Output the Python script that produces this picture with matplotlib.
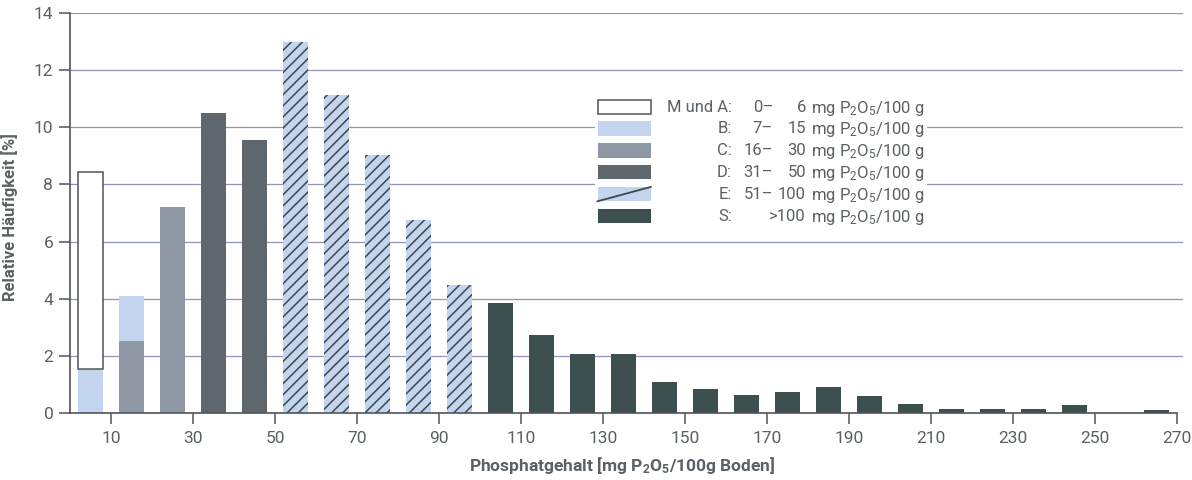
import matplotlib
matplotlib.use('Agg')
import matplotlib.pyplot as plt
from matplotlib.patches import Patch, Rectangle
from matplotlib.lines import Line2D
from matplotlib.legend_handler import HandlerPatch

plt.rcParams['font.family'] = ['Roboto', 'DejaVu Sans']
plt.rcParams['mathtext.default'] = 'regular'
plt.rcParams['hatch.linewidth'] = 1.1

# bar centres (mg P2O5/100g) and relative frequencies (%) per phosphate class
x_b = [5, 15]
b_vals = [1.55, 1.55]
x_c = [15, 25]
c_vals = [2.53, 7.21]
x_ma = [5]
ma_vals = [6.9]
x_d = [35, 45]
d_vals = [10.5, 9.56]
x_e = [55, 65, 75, 85, 95]
e_vals = [12.97, 11.14, 9.03, 6.74, 4.49]
x_s = [105, 115, 125, 135, 145, 155, 165, 175, 185, 195, 205, 215, 225, 235, 245, 265]
s_vals = [3.85, 2.72, 2.05, 2.05, 1.1, 0.83, 0.63, 0.73, 0.9, 0.61, 0.3, 0.15, 0.15, 0.15, 0.28, 0.12]

classes = ['M und A:', 'B:', 'C:', 'D:', 'E:', 'S:']
range_lo = ['0–', '7–', '16–', '31–', '51–', '']
range_hi = ['6', '15', '30', '50', '100', '>100']
unit = 'mg P$_2$O$_5$/100 g'

xticks = list(range(10, 271, 20))
yticks = list(range(0, 15, 2))

col_b = '#c3d5ee'
col_c = '#8e98a4'
col_d = '#5e676d'
col_s = '#3d4f4e'
col_line = '#3e474a'
col_axis = '#4f555b'
col_text = '#5a6066'
col_grid = '#9096b6'
bw = 6


class DiagHandler(HandlerPatch):
    def create_artists(self, legend, orig_handle, xdescent, ydescent, width, height, fontsize, trans):
        r = Rectangle((-xdescent, -ydescent), width, height, facecolor=col_b, lw=0, transform=trans)
        ln = Line2D([-xdescent, -xdescent + width], [-ydescent, -ydescent + height],
                    color=col_line, lw=1.3, transform=trans)
        return [r, ln]


fig = plt.figure(figsize=(11.92, 4.8), dpi=100)
ax = fig.add_axes([70 / 1192, 1 - 413 / 480, 1113 / 1192, 400 / 480])

b_bottom = [0, c_vals[0]]
ax.bar(x_c, c_vals, width=bw, color=col_c, lw=0, zorder=2)
ax.bar(x_b, b_vals, width=bw, bottom=b_bottom, color=col_b, lw=0, zorder=2)
ax.bar(x_ma, ma_vals, width=bw, bottom=[b_vals[0]], facecolor='white', edgecolor=col_axis, lw=1.1, zorder=2)
ax.bar(x_d, d_vals, width=bw, color=col_d, lw=0, zorder=2)
ax.bar(x_e, e_vals, width=bw, facecolor=col_b, edgecolor=col_line, lw=0, hatch='///', zorder=2)
ax.bar(x_s, s_vals, width=bw, color=col_s, lw=0, zorder=2)

ax.set_xlim(0, 271.5)
ax.set_ylim(0, 14)
ax.set_xticks(xticks)
ax.set_yticks(yticks)
ax.tick_params(axis='both', direction='out', length=8, width=1.1, color=col_axis,
               labelcolor=col_text, labelsize=12.5)
ax.tick_params(axis='x', pad=5)
ax.tick_params(axis='y', pad=4)
for s in ['top', 'right']:
    ax.spines[s].set_visible(False)
for s in ['left', 'bottom']:
    ax.spines[s].set_color(col_axis)
    ax.spines[s].set_linewidth(1.2)
ax.spines['bottom'].set_bounds(0, 270)
ax.set_axisbelow(True)
ax.yaxis.grid(True, color=col_grid, lw=0.9)

ax.set_ylabel('Relative Häufigkeit [%]', fontsize=12, fontweight='bold', color=col_text)
ax.yaxis.set_label_coords(-0.047, 0.49)
ax.set_xlabel('Phosphatgehalt [mg P$_2$O$_5$/100g Boden]', fontsize=12.5, fontweight='bold', color=col_text)
ax.xaxis.set_label_coords(0.496, -0.105)

handles = [Patch(facecolor='white', edgecolor=col_axis, lw=1.1),
           Patch(facecolor=col_b, lw=0),
           Patch(facecolor=col_c, lw=0),
           Patch(facecolor=col_d, lw=0),
           Patch(facecolor=col_b),
           Patch(facecolor=col_s, lw=0)]
leg = ax.legend(handles, [unit] * 6, loc='upper left',
                bbox_to_anchor=(595 / 1192, 1 - 96 / 480), bbox_transform=fig.transFigure,
                fontsize=12, handlelength=3.2, handleheight=0.95, handletextpad=9.6,
                labelspacing=0.17, borderpad=0.15, borderaxespad=0,
                frameon=True, fancybox=False, framealpha=1,
                handler_map={handles[4]: DiagHandler()})
leg.get_frame().set_facecolor('white')
leg.get_frame().set_edgecolor('none')
for t in leg.get_texts():
    t.set_color(col_text)

fig.canvas.draw()
inv = fig.transFigure.inverted()
for i, t in enumerate(leg.get_texts()):
    bb = t.get_window_extent()
    yc = inv.transform((0, (bb.y0 + bb.y1) / 2 + 1))[1]
    kw = dict(transform=fig.transFigure, va='center', fontsize=12, color=col_text, zorder=6)
    fig.text(732 / 1192, yc, classes[i], ha='right', **kw)
    fig.text(773 / 1192, yc, range_lo[i], ha='right', **kw)
    fig.text(806 / 1192, yc, range_hi[i], ha='right', **kw)

fig.savefig('out.png', dpi=100)
